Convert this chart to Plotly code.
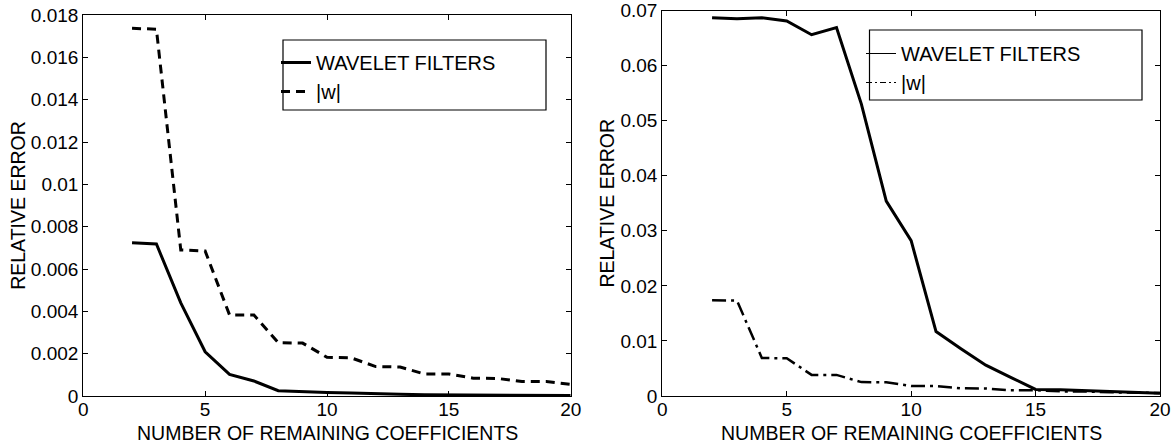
import plotly.graph_objects as go

# ---------------- data ----------------
coeffs = list(range(2, 21))

# left panel
left_wavelet = [0.00724, 0.00718, 0.00440, 0.00209, 0.00102, 0.00071, 0.00025, 0.00020,
                0.00017, 0.00014, 0.00010, 0.00008, 0.00006, 0.00005, 0.00004, 0.00004,
                0.00003, 0.00003, 0.00002]
left_absw = [0.01737, 0.01733, 0.00690, 0.00685, 0.00383, 0.00383, 0.00252, 0.00250,
             0.00183, 0.00180, 0.00139, 0.00137, 0.00104, 0.00104, 0.00084, 0.00083,
             0.00068, 0.00068, 0.00055]

# right panel
right_wavelet = [0.0687, 0.0685, 0.0687, 0.0681, 0.0656, 0.0669, 0.0530, 0.0354,
                 0.0282, 0.0117, 0.0086, 0.0056, 0.0034, 0.0012, 0.00115, 0.0010,
                 0.0009, 0.0007, 0.0005]
right_absw = [0.01740, 0.01733, 0.00690, 0.00685, 0.00383, 0.00383, 0.00252, 0.00250,
              0.00183, 0.00180, 0.00139, 0.00137, 0.00104, 0.00104, 0.00084, 0.00083,
              0.00068, 0.00068, 0.00055]

x_ticks = [0, 5, 10, 15, 20]
x_ticktext = ["0", "5", "10", "15", "20"]
left_yticks = [0, 0.002, 0.004, 0.006, 0.008, 0.010, 0.012, 0.014, 0.016, 0.018]
left_yticktext = ["0", "0.002", "0.004", "0.006", "0.008", "0.01", "0.012", "0.014", "0.016", "0.018"]
right_yticks = [0, 0.01, 0.02, 0.03, 0.04, 0.05, 0.06, 0.07]
right_yticktext = ["0", "0.01", "0.02", "0.03", "0.04", "0.05", "0.06", "0.07"]

name_wavelet = "WAVELET FILTERS"
name_absw = "|w|"
x_title = "NUMBER OF REMAINING COEFFICIENTS"
y_title = "RELATIVE ERROR"

# ---------------- figure ----------------
W, H = 1175, 447
FONT = "Liberation Sans, Arial, Helvetica, sans-serif"
fig = go.Figure()

# left panel traces
fig.add_trace(go.Scatter(x=coeffs, y=left_wavelet, mode="lines", name=name_wavelet,
                         line=dict(color="black", width=3), xaxis="x", yaxis="y",
                         legend="legend"))
fig.add_trace(go.Scatter(x=coeffs, y=left_absw, mode="lines", name=name_absw,
                         line=dict(color="black", width=3, dash="9px,6px"), xaxis="x", yaxis="y",
                         legend="legend"))

# right panel traces
fig.add_trace(go.Scatter(x=coeffs, y=right_wavelet, mode="lines", name=name_wavelet,
                         line=dict(color="black", width=3), xaxis="x2", yaxis="y2",
                         showlegend=False))
fig.add_trace(go.Scatter(x=coeffs, y=right_absw, mode="lines", name=name_absw,
                         line=dict(color="black", width=2.5, dash="14px,5px,3px,5px"),
                         xaxis="x2", yaxis="y2", showlegend=False))
# right legend entries (thin sample lines)
fig.add_trace(go.Scatter(x=[None], y=[None], mode="lines", name=name_wavelet,
                         line=dict(color="black", width=1), xaxis="x2", yaxis="y2",
                         legend="legend2"))
fig.add_trace(go.Scatter(x=[None], y=[None], mode="lines", name=name_absw,
                         line=dict(color="black", width=1, dash="6px,3px,2px,3px"),
                         xaxis="x2", yaxis="y2", legend="legend2"))

def px_x(p):
    return p / W

def px_y(p):
    return 1 - p / H

axis_common = dict(showline=True, linecolor="black", linewidth=1.2, mirror="ticks",
                   ticks="inside", ticklen=5, tickcolor="black", tickwidth=1,
                   showgrid=False, zeroline=False, automargin=False,
                   ticklabeloverflow="allow",
                   tickfont=dict(family=FONT, size=19, color="black"))
title_font = dict(family=FONT, size=19.5, color="black")

# legend frames
legend_boxes = [(283, 40, 546, 110), (869.5, 30, 1142, 100)]
shapes = [dict(type="rect", xref="paper", yref="paper",
               x0=px_x(a), x1=px_x(c), y0=px_y(d), y1=px_y(b),
               line=dict(color="black", width=1.2), fillcolor="rgba(0,0,0,0)", layer="above")
          for a, b, c, d in legend_boxes]

# x-axis titles placed as annotations centred under each panel
x_domains = [(83.3, 570.7), (662.3, 1160)]
annotations = [dict(text=x_title, xref="paper", yref="paper",
                    x=px_x((a + b) / 2), y=px_y(433), xanchor="center", yanchor="middle",
                    showarrow=False, font=title_font)
               for a, b in x_domains]

fig.update_layout(
    width=W, height=H,
    margin=dict(l=0, r=0, t=0, b=0),
    paper_bgcolor="white", plot_bgcolor="white",
    font=dict(family=FONT, size=19, color="black"),
    xaxis=dict(domain=[px_x(83.3), px_x(570.7)], range=[0, 20], tickvals=x_ticks,
               ticktext=x_ticktext, anchor="y", ticklabelstandoff=-4, **axis_common),
    yaxis=dict(domain=[px_y(396), px_y(15)], range=[0, 0.0180001], tickvals=left_yticks,
               ticktext=left_yticktext, anchor="x",
               title=dict(text=y_title, font=title_font, standoff=0),
               **axis_common),
    xaxis2=dict(domain=[px_x(662.3), px_x(1160)], range=[0, 20], tickvals=x_ticks,
                ticktext=x_ticktext, anchor="y2", ticklabelstandoff=-4, **axis_common),
    yaxis2=dict(domain=[px_y(396), px_y(10.5)], range=[0, 0.0700001], tickvals=right_yticks,
                ticktext=right_yticktext, anchor="x2",
                title=dict(text=y_title, font=title_font, standoff=0),
                **axis_common),
    legend=dict(x=px_x(276), y=px_y(43), xanchor="left", yanchor="top",
                bgcolor="rgba(0,0,0,0)", borderwidth=0,
                font=dict(family=FONT, size=20), itemwidth=30),
    legend2=dict(x=px_x(861), y=px_y(34), xanchor="left", yanchor="top",
                 bgcolor="rgba(0,0,0,0)", borderwidth=0,
                 font=dict(family=FONT, size=20), itemwidth=30),
    shapes=shapes,
    annotations=annotations,
    showlegend=True,
)

fig.write_html("out.html")
